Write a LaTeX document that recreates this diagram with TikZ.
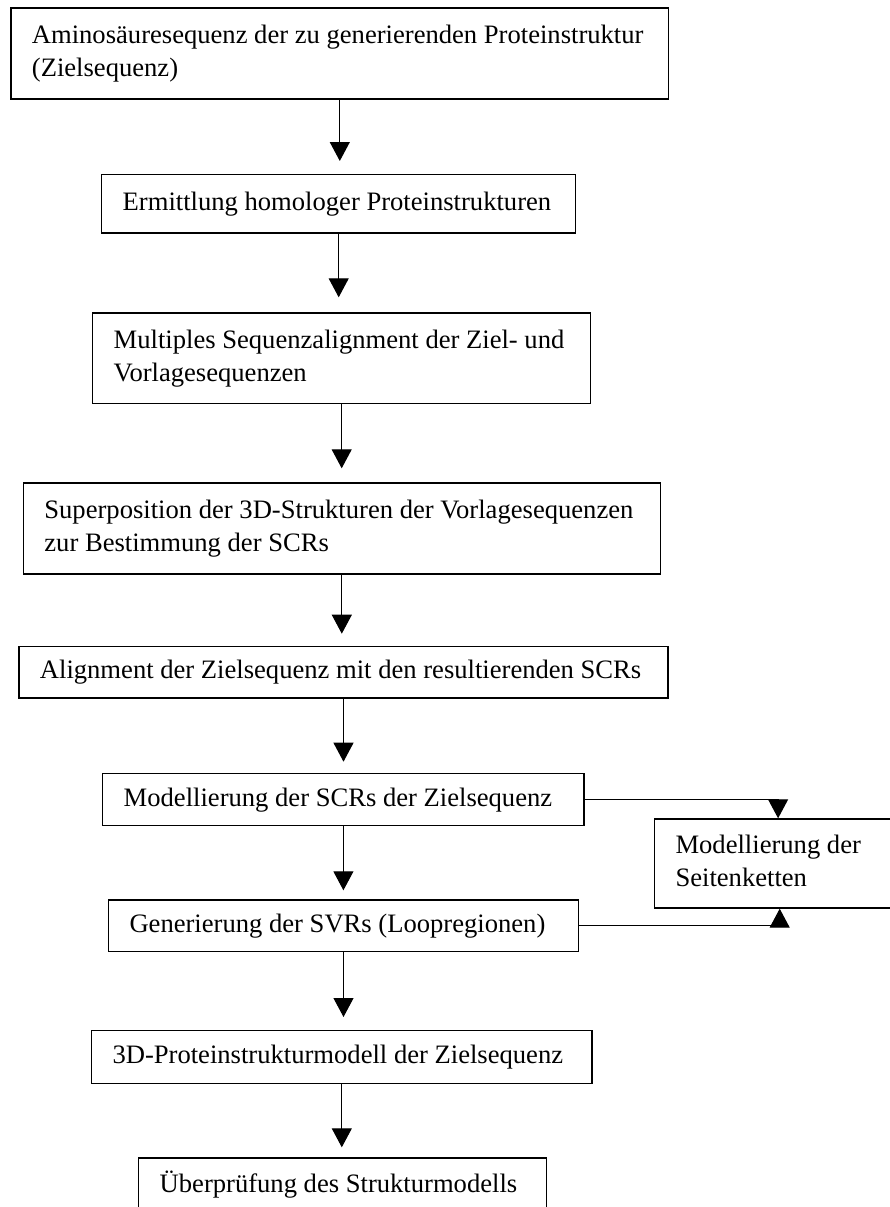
\documentclass[tikz,border=0pt]{standalone}
\usepackage{fontspec}
\setmainfont{Liberation Serif}
\usetikzlibrary{arrows.meta}
\newcommand\lbox[2]{\makebox[#1pt][l]{\begin{tabular}{@{}l@{}}#2\end{tabular}}}
\begin{document}
\begin{tikzpicture}[x=1pt,y=-1pt,
  box/.style={draw, line width=1.4pt, rectangle, anchor=north west, inner sep=0pt,
              font=\fontsize{26.6pt}{33pt}\selectfont},
  arr/.style={line width=1.1pt, -{Triangle[length=19pt,width=20pt]}}]
\useasboundingbox (0,0) rectangle (890,1207);
\fill[white] (0,0) rectangle (890,1207);

\node[box, minimum width=657.8pt, minimum height=91pt] (b1) at (10.2,7.3)
  {\lbox{615.8}{Aminosäuresequenz der zu generierenden Proteinstruktur\\(Zielsequenz)}};
\node[box, minimum width=474pt, minimum height=58.3pt] (b2) at (101,174)
  {\lbox{432}{Ermittlung homologer Proteinstrukturen}};
\node[box, minimum width=498pt, minimum height=90.4pt] (b3) at (92,312.3)
  {\lbox{456}{Multiples Sequenzalignment der Ziel- und\\Vorlagesequenzen}};
\node[box, minimum width=636.8pt, minimum height=91pt] (b4) at (22.7,482.3)
  {\lbox{594.8}{Superposition der 3D-Strukturen der Vorlagesequenzen\\zur Bestimmung der SCRs}};
\node[box, minimum width=649.2pt, minimum height=51.6pt] (b5) at (18.2,645.7)
  {\lbox{607.2}{Alignment der Zielsequenz mit den resultierenden SCRs}};
\node[box, minimum width=481.4pt, minimum height=52.3pt] (b6) at (102,772.7)
  {\lbox{439.4}{Modellierung der SCRs der Zielsequenz}};
\node[box, minimum width=470pt, minimum height=51.4pt] (b7) at (107.8,899.3)
  {\lbox{428}{Generierung der SVRs (Loopregionen)}};
\node[box, minimum width=500.6pt, minimum height=52.7pt] (b8) at (90.8,1030)
  {\lbox{458.6}{3D-Proteinstrukturmodell der Zielsequenz}};
\node[box, minimum width=408pt, minimum height=56pt] (b9) at (138,1157.3)
  {\lbox{366}{Überprüfung des Strukturmodells}};
\node[box, minimum width=241.2pt, minimum height=89pt] (side) at (653.8,818.3)
  {\lbox{199.2}{Modellierung der\\Seitenketten}};

\draw[arr, shorten >=13pt] (b1.south) -- (b1.south |- b2.north);
\draw[arr, shorten >=15pt] (b2.south) -- (b2.south |- b3.north);
\draw[arr, shorten >=14pt] (b3.south) -- (b3.south |- b4.north);
\draw[arr, shorten >=12pt] (b4.south) -- (b4.south |- b5.north);
\draw[arr, shorten >=11pt] (b5.south) -- (b5.south |- b6.north);
\draw[arr, shorten >=9pt]  (b6.south) -- (b6.south |- b7.north);
\draw[arr, shorten >=13pt] (b7.south) -- (b7.south |- b8.north);
\draw[arr, shorten >=10pt] (b8.south) -- (b8.south |- b9.north);

\draw[arr] (b6.east) -| ([xshift=3pt]side.north);
\draw[arr] (b7.east) -| ([xshift=4.6pt]side.south);
\end{tikzpicture}
\end{document}
